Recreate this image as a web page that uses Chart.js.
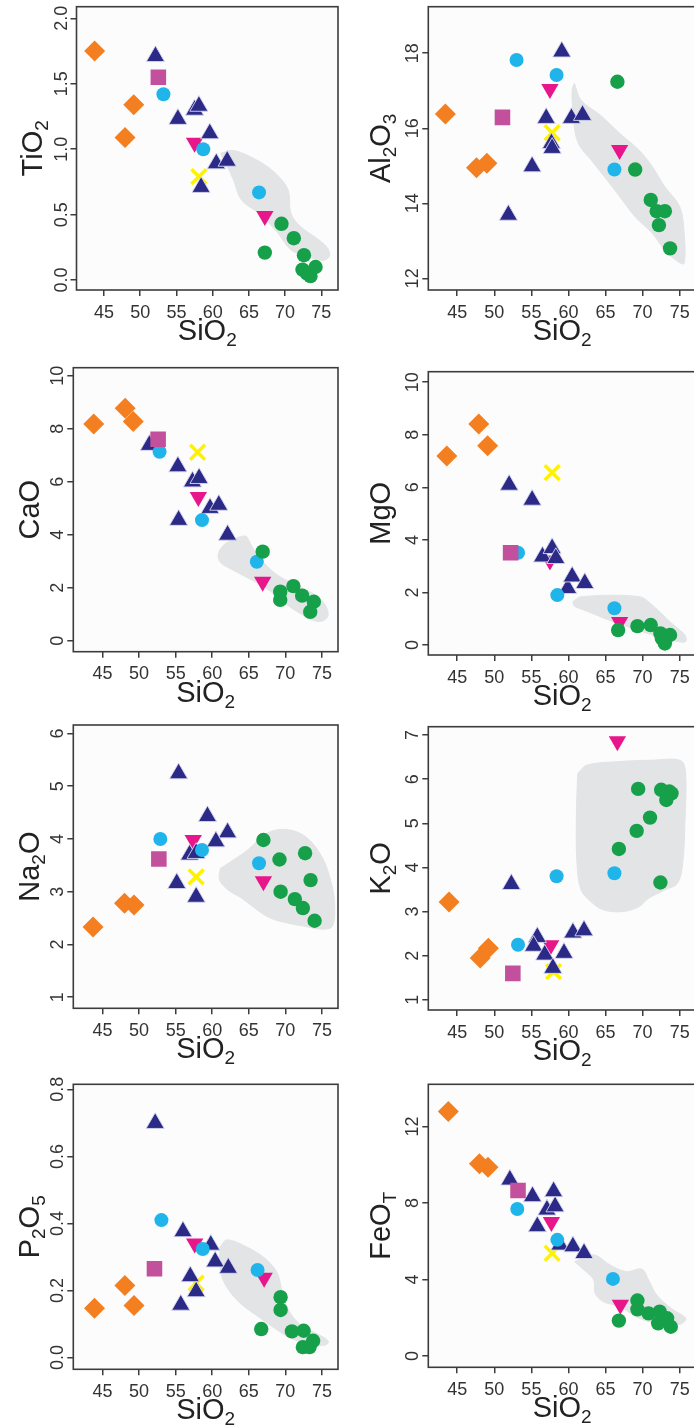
<!DOCTYPE html>
<html>
<head>
<meta charset="utf-8">
<title>Harker diagrams</title>
<script src="https://cdn.jsdelivr.net/npm/chart.js@4.4.1/dist/chart.umd.min.js"></script>
<style>
  html, body { margin: 0; padding: 0; background: #fff; width: 694px; height: 1426px; overflow: hidden; position: relative; }
  canvas { position: absolute; }
</style>
</head>
<body>
<script>
// Tick values
const SIO2_TICKS = [45, 50, 55, 60, 65, 70, 75];
const TIO2_TICKS = [0, 0.5, 1, 1.5, 2];
const AL2O3_TICKS = [12, 14, 16, 18];
const CAO_TICKS = [0, 2, 4, 6, 8, 10];
const MGO_TICKS = [0, 2, 4, 6, 8, 10];
const NA2O_TICKS = [1, 2, 3, 4, 5, 6];
const K2O_TICKS = [1, 2, 3, 4, 5, 6, 7];
const P2O5_TICKS = [0, 0.2, 0.4, 0.6, 0.8];
const FEOT_TICKS = [0, 4, 8, 12];

// [SiO2, oxide] pairs, one array per symbol group
const TIO2_DIAMOND = [[43.7, 1.75], [47.9, 1.09], [49.1, 1.34]];
const TIO2_SQUARE = [[52.5, 1.55]];
const TIO2_CYAN = [[53.2, 1.42], [58.7, 1.0], [66.4, 0.67]];
const TIO2_TRI = [[52.1, 1.71], [55.2, 1.23], [57.5, 1.30], [58.1, 1.33], [58.4, 0.71], [59.6, 1.12], [60.5, 0.89], [62.0, 0.91]];
const TIO2_INV = [[57.5, 1.05], [67.2, 0.49]];
const TIO2_CROSS = [[58.1, 0.79]];
const TIO2_GREEN = [[69.5, 0.43], [71.2, 0.32], [72.6, 0.19], [67.2, 0.21], [72.4, 0.08], [73.0, 0.05], [73.5, 0.03], [74.2, 0.10]];
const TIO2_FIELD = [[61.1, 0.97], [62.9, 0.99], [66.0, 0.92], [68.6, 0.82], [70.4, 0.69], [70.8, 0.51], [72.1, 0.41], [74.6, 0.31], [75.9, 0.24], [76.1, 0.18], [75.2, 0.15], [73.0, 0.18], [70.8, 0.23], [69.0, 0.36], [66.4, 0.51], [64.0, 0.61], [62.9, 0.76], [62.0, 0.87], [61.3, 0.94]];

const AL2O3_DIAMOND = [[43.4, 16.38], [47.6, 14.95], [49.0, 15.07]];
const AL2O3_SQUARE = [[51.1, 16.29]];
const AL2O3_CYAN = [[53.0, 17.82], [58.4, 17.42], [66.2, 14.9]];
const AL2O3_TRI = [[51.9, 13.69], [55.1, 14.98], [57.0, 16.27], [57.7, 15.6], [57.8, 15.47], [59.1, 18.04], [60.4, 16.27], [61.9, 16.35]];
const AL2O3_INV = [[57.5, 17.05], [66.9, 15.42]];
const AL2O3_CROSS = [[57.8, 15.88]];
const AL2O3_GREEN = [[66.6, 17.24], [69.0, 14.9], [71.1, 14.09], [71.9, 13.79], [73.0, 13.79], [72.2, 13.42], [73.7, 12.8]];
const AL2O3_FIELD = [[60.8, 17.2], [61.7, 16.75], [64.3, 16.35], [66.9, 15.87], [69.5, 15.42], [71.3, 14.98], [73.0, 14.44], [75.0, 13.91], [75.6, 13.2], [75.6, 12.4], [74.8, 12.44], [73.0, 12.75], [71.3, 13.2], [69.0, 13.64], [66.9, 14.18], [65.2, 14.62], [63.4, 15.07], [61.25, 15.64], [60.6, 16.49], [60.5, 17.02]];

const CAO_DIAMOND = [[43.8, 8.18], [48.1, 8.77], [49.2, 8.27]];
const CAO_SQUARE = [[52.6, 7.6]];
const CAO_CYAN = [[52.8, 7.13], [58.6, 4.55], [66.1, 2.98]];
const CAO_TRI = [[51.4, 7.38], [55.3, 6.57], [57.3, 6.0], [58.2, 6.13], [55.4, 4.55], [59.7, 5.0], [60.9, 5.12], [62.1, 3.99]];
const CAO_INV = [[58.1, 5.42], [66.9, 2.22]];
const CAO_CROSS = [[58.0, 7.11]];
const CAO_GREEN = [[66.9, 3.36], [69.3, 1.85], [69.3, 1.54], [71.1, 2.06], [72.3, 1.7], [73.9, 1.47], [73.4, 1.09]];
const CAO_FIELD = [[61.0, 3.42], [61.9, 3.68], [64.5, 3.95], [65.2, 3.68], [66.3, 3.17], [68.9, 2.48], [71.5, 2.1], [74.1, 1.72], [75.45, 1.35], [75.8, 0.91], [74.6, 0.72], [72.8, 0.91], [70.6, 1.28], [68.9, 1.66], [67.1, 2.04], [65.0, 2.35], [62.8, 2.67], [61.25, 2.92], [60.8, 3.17]];

const MGO_DIAMOND = [[43.6, 7.19], [47.9, 8.41], [49.1, 7.58]];
const MGO_SQUARE = [[52.2, 3.51]];
const MGO_CYAN = [[53.2, 3.51], [58.5, 1.9], [66.2, 1.4]];
const MGO_TRI = [[52.0, 6.09], [55.1, 5.52], [56.5, 3.36], [57.8, 3.68], [58.3, 3.3], [59.9, 2.16], [60.5, 2.6], [62.2, 2.35]];
const MGO_INV = [[57.5, 3.22], [66.9, 0.88]];
const MGO_CROSS = [[57.8, 6.56]];
const MGO_GREEN = [[66.7, 0.57], [69.3, 0.72], [71.1, 0.76], [72.4, 0.44], [73.0, 0.06], [72.6, 0.25], [73.7, 0.38]];
const MGO_FIELD = [[60.6, 1.65], [61.7, 1.84], [69.55, 1.84], [71.3, 1.52], [73.9, 0.83], [75.7, 0.38], [75.8, 0.13], [74.8, 0.13], [73.0, 0.25], [70.9, 0.42], [68.7, 0.63], [66.5, 0.83], [64.3, 1.08], [62.1, 1.33], [60.8, 1.48]];

const NA2O_DIAMOND = [[43.7, 2.33], [48.0, 2.78], [49.3, 2.75]];
const NA2O_SQUARE = [[52.7, 3.62]];
const NA2O_CYAN = [[52.9, 4.0], [58.6, 3.79], [66.4, 3.54]];
const NA2O_TRI = [[55.4, 5.24], [59.35, 4.43], [62.1, 4.12], [60.5, 3.95], [56.9, 3.7], [57.8, 3.73], [55.15, 3.16], [57.8, 2.9]];
const NA2O_INV = [[57.4, 3.98], [67.0, 3.2]];
const NA2O_CROSS = [[57.8, 3.28]];
const NA2O_GREEN = [[67.0, 3.98], [69.2, 3.61], [72.7, 3.73], [73.45, 3.22], [69.35, 3.0], [71.3, 2.86], [72.4, 2.69], [74.0, 2.45]];
const NA2O_FIELD = [[61.1, 3.44], [62.2, 3.54], [64.85, 3.79], [67.5, 4.11], [70.15, 4.18], [72.8, 4.04], [75.0, 3.66], [76.3, 3.16], [76.75, 2.72], [76.4, 2.34], [75.0, 2.29], [72.8, 2.34], [70.15, 2.41], [67.95, 2.5], [66.2, 2.65], [64.0, 2.88], [62.2, 3.03], [61.0, 3.22]];

const K2O_DIAMOND = [[43.9, 3.22], [48.1, 1.95], [49.2, 2.17]];
const K2O_SQUARE = [[52.5, 1.6]];
const K2O_CYAN = [[53.2, 2.25], [58.4, 3.8], [66.2, 3.87]];
const K2O_TRI = [[52.3, 3.62], [55.8, 2.42], [55.3, 2.22], [56.8, 2.02], [59.4, 2.06], [57.9, 1.72], [60.6, 2.52], [62.1, 2.57]];
const K2O_INV = [[57.6, 2.24], [66.6, 6.86]];
const K2O_CROSS = [[58.0, 1.64]];
const K2O_GREEN = [[69.4, 5.78], [72.5, 5.76], [73.6, 5.72], [73.9, 5.68], [73.2, 5.53], [71.0, 5.13], [69.2, 4.83], [66.8, 4.42], [72.4, 3.66]];
const K2O_FIELD = [[61.24, 6.13], [62.5, 6.32], [66.9, 6.4], [71.2, 6.43], [75.15, 6.42], [75.8, 6.13], [75.7, 5.0], [75.4, 4.09], [74.7, 3.64], [73.0, 3.49], [70.8, 3.3], [69.5, 3.11], [67.3, 3.0], [64.7, 3.04], [63.0, 3.23], [61.7, 3.49], [61.15, 4.09], [61.07, 5.15]];

const P2O5_DIAMOND = [[43.9, 0.147], [48.05, 0.215], [49.3, 0.155]];
const P2O5_SQUARE = [[52.1, 0.265]];
const P2O5_CYAN = [[53.05, 0.41], [58.7, 0.324], [66.2, 0.261]];
const P2O5_TRI = [[52.2, 0.699], [56.0, 0.376], [59.8, 0.336], [60.4, 0.286], [62.2, 0.267], [57.0, 0.242], [57.8, 0.197], [55.7, 0.157]];
const P2O5_INV = [[57.6, 0.34], [67.1, 0.238]];
const P2O5_CROSS = [[57.8, 0.222]];
const P2O5_GREEN = [[69.35, 0.18], [69.35, 0.142], [66.7, 0.085], [70.9, 0.078], [72.5, 0.08], [72.4, 0.031], [73.3, 0.031], [73.8, 0.05]];
const P2O5_FIELD = [[61.1, 0.331], [62.0, 0.351], [64.6, 0.331], [67.2, 0.296], [68.9, 0.252], [69.6, 0.192], [70.7, 0.132], [72.4, 0.092], [74.6, 0.068], [75.9, 0.048], [75.4, 0.037], [73.3, 0.041], [70.7, 0.058], [68.5, 0.088], [66.3, 0.122], [64.1, 0.157], [62.4, 0.197], [61.3, 0.242], [61.0, 0.296]];

const FEOT_DIAMOND = [[43.8, 12.78], [48.0, 10.05], [49.15, 9.87]];
const FEOT_SQUARE = [[53.2, 8.65]];
const FEOT_CYAN = [[53.1, 7.68], [58.5, 6.07], [66.0, 4.03]];
const FEOT_TRI = [[52.1, 9.21], [55.15, 8.34], [58.0, 8.6], [57.1, 7.64], [58.2, 7.81], [55.8, 6.77], [58.85, 5.81], [60.6, 5.72], [62.1, 5.37]];
const FEOT_INV = [[57.7, 7.0], [67.0, 2.68]];
const FEOT_CROSS = [[57.8, 5.37]];
const FEOT_GREEN = [[69.3, 2.9], [69.3, 2.44], [66.8, 1.85], [70.8, 2.23], [72.3, 2.32], [72.1, 1.71], [73.3, 1.97], [73.8, 1.53]];
const FEOT_FIELD = [[60.8, 4.93], [63.4, 5.29], [65.6, 4.76], [67.8, 4.41], [69.9, 4.54], [70.8, 3.98], [71.9, 3.19], [73.85, 2.49], [75.8, 1.97], [75.15, 1.67], [73.0, 1.67], [70.8, 1.8], [69.1, 2.06], [66.9, 2.58], [64.7, 2.84], [63.6, 3.28], [63.4, 3.98], [62.1, 4.5]];

const FONT = '"Liberation Sans", Arial, Helvetica, sans-serif';

// Symbol groups, in the same order as the series lists below
const GROUPS = [
    { style: 'rectRot', r: 10.5, fill: '#f47f20', order: 7 },
    { style: 'rect', r: 11, fill: '#c2509c', order: 2 },
    { style: 'circle', r: 7, fill: '#1fb4ea', order: 3 },
    { style: 'triangle', r: 10.5, fill: '#2b2a86', order: 4, edge: 'rgba(215,215,240,0.9)' },
    { style: 'triangle', r: 10, fill: '#e8168b', order: 6, rot: 180 },
    { style: 'crossRot', r: 10.5, fill: '#fff200', order: 5, line: 3.5 },
    { style: 'circle', r: 7.2, fill: '#17a04a', order: 1 }
];

// Panel layout: box = [left, top, right, bottom] of the plot frame on the page
const panels = [
    { title: [['TiO', 0], ['2', 1]], col: 0, box: [76.5, 6.7, 349.5, 290], xMin: 41.2, xMax: 77.3, yMin: -0.076, yMax: 2.089, ticks: TIO2_TICKS, dec: 1,
      series: [TIO2_DIAMOND, TIO2_SQUARE, TIO2_CYAN, TIO2_TRI, TIO2_INV, TIO2_CROSS, TIO2_GREEN], field: TIO2_FIELD },
    { title: [['Al', 0], ['2', 1], ['O', 0], ['3', 1]], col: 1, box: [428.3, 6.7, 704, 290], xMin: 41.1, xMax: 77.2, yMin: 11.69, yMax: 19.24, ticks: AL2O3_TICKS, dec: 0,
      series: [AL2O3_DIAMOND, AL2O3_SQUARE, AL2O3_CYAN, AL2O3_TRI, AL2O3_INV, AL2O3_CROSS, AL2O3_GREEN], field: AL2O3_FIELD },
    { title: [['CaO', 0]], col: 0, box: [73.3, 367.7, 349.5, 651.7], xMin: 41.0, xMax: 77.2, yMin: -0.415, yMax: 10.3, ticks: CAO_TICKS, dec: 0,
      series: [CAO_DIAMOND, CAO_SQUARE, CAO_CYAN, CAO_TRI, CAO_INV, CAO_CROSS, CAO_GREEN], field: CAO_FIELD },
    { title: [['MgO', 0]], col: 1, box: [428.3, 371.7, 704, 655], xMin: 41.1, xMax: 77.2, yMin: -0.38, yMax: 10.4, ticks: MGO_TICKS, dec: 0,
      series: [MGO_DIAMOND, MGO_SQUARE, MGO_CYAN, MGO_TRI, MGO_INV, MGO_CROSS, MGO_GREEN], field: MGO_FIELD },
    { title: [['Na', 0], ['2', 1], ['O', 0]], col: 0, box: [73.3, 725, 349.5, 1008.3], xMin: 41.0, xMax: 77.2, yMin: 0.79, yMax: 6.16, ticks: NA2O_TICKS, dec: 0,
      series: [NA2O_DIAMOND, NA2O_SQUARE, NA2O_CYAN, NA2O_TRI, NA2O_INV, NA2O_CROSS, NA2O_GREEN], field: NA2O_FIELD },
    { title: [['K', 0], ['2', 1], ['O', 0]], col: 1, box: [428.3, 726.7, 704, 1010], xMin: 41.1, xMax: 77.2, yMin: 0.77, yMax: 7.19, ticks: K2O_TICKS, dec: 0,
      series: [K2O_DIAMOND, K2O_SQUARE, K2O_CYAN, K2O_TRI, K2O_INV, K2O_CROSS, K2O_GREEN], field: K2O_FIELD },
    { title: [['P', 0], ['2', 1], ['O', 0], ['5', 1]], col: 0, box: [73.3, 1084.3, 349.5, 1369.3], xMin: 41.0, xMax: 77.2, yMin: -0.035, yMax: 0.815, ticks: P2O5_TICKS, dec: 1,
      series: [P2O5_DIAMOND, P2O5_SQUARE, P2O5_CYAN, P2O5_TRI, P2O5_INV, P2O5_CROSS, P2O5_GREEN], field: P2O5_FIELD },
    { title: [['FeO', 0], ['T', 1]], col: 1, box: [428.3, 1084.3, 704, 1367.3], xMin: 41.1, xMax: 77.2, yMin: -0.59, yMax: 14.2, ticks: FEOT_TICKS, dec: 0,
      series: [FEOT_DIAMOND, FEOT_SQUARE, FEOT_CYAN, FEOT_TRI, FEOT_INV, FEOT_CROSS, FEOT_GREEN], field: FEOT_FIELD }
];

function toPoints(arr) {
    return arr.map(p => ({ x: p[0], y: p[1] }));
}

// Draws text made of normal and subscript parts, centred on the origin
function drawParts(ctx, parts, size) {
    const subSize = Math.round(size * 0.64);
    let total = 0;
    parts.forEach(([t, sub]) => {
        ctx.font = (sub ? subSize : size) + 'px ' + FONT;
        total += ctx.measureText(t).width;
    });
    let x = -total / 2;
    parts.forEach(([t, sub]) => {
        ctx.font = (sub ? subSize : size) + 'px ' + FONT;
        ctx.fillText(t, x, sub ? size * 0.2 : 0);
        x += ctx.measureText(t).width;
    });
}

// Frame, background, rotated y labels and axis titles
const framePlugin = {
    id: 'frame',
    beforeDraw(chart) {
        const a = chart.chartArea;
        const ctx = chart.ctx;
        ctx.save();
        ctx.fillStyle = '#fcfcfc';
        ctx.fillRect(a.left, a.top, a.right - a.left, a.bottom - a.top);
        ctx.restore();
    },
    afterDatasetsDraw(chart) {
        const a = chart.chartArea;
        const ctx = chart.ctx;
        ctx.save();
        ctx.strokeStyle = '#3c3c3c';
        ctx.lineWidth = 1.6;
        ctx.strokeRect(a.left, a.top, a.right - a.left, a.bottom - a.top);
        ctx.restore();
    },
    afterDraw(chart, args, opts) {
        const a = chart.chartArea;
        const ctx = chart.ctx;
        const yScale = chart.scales.y;
        ctx.save();
        ctx.fillStyle = '#333';
        ctx.textAlign = 'left';
        ctx.textBaseline = 'alphabetic';

        // y tick labels, rotated like R's default
        ctx.font = '18px ' + FONT;
        yScale.ticks.forEach(t => {
            const py = yScale.getPixelForValue(t.value);
            ctx.save();
            ctx.translate(a.left - 10, py);
            ctx.rotate(-Math.PI / 2);
            ctx.textAlign = 'center';
            ctx.fillText(t.value.toFixed(opts.dec), 0, 0);
            ctx.restore();
        });

        ctx.fillStyle = '#222';
        // y title
        ctx.save();
        ctx.translate(a.left - opts.titleOffset, (a.top + a.bottom) / 2);
        ctx.rotate(-Math.PI / 2);
        drawParts(ctx, opts.title, 29);
        ctx.restore();

        // x title
        ctx.save();
        ctx.translate((a.left + a.right) / 2, a.bottom + 50);
        drawParts(ctx, [['SiO', 0], ['2', 1]], 29);
        ctx.restore();
        ctx.restore();
    }
};

panels.forEach(p => {
    const [L, T, R, B] = p.box;
    const canvasLeft = p.col ? 350 : 0;
    const canvasWidth = p.col ? 360 : 352;
    const canvasTop = Math.floor(T - 14);
    const padTop = T - canvasTop;
    const canvasHeight = Math.ceil(B - canvasTop + 58);
    const xAxisHeight = canvasHeight - (B - canvasTop);

    const canvas = document.createElement('canvas');
    canvas.width = canvasWidth;
    canvas.height = canvasHeight;
    canvas.style.left = canvasLeft + 'px';
    canvas.style.top = canvasTop + 'px';
    document.body.appendChild(canvas);

    const datasets = GROUPS.map((g, i) => ({
        type: 'scatter',
        data: toPoints(p.series[i]),
        pointStyle: g.style,
        pointRadius: g.r,
        pointHoverRadius: g.r,
        pointRotation: g.rot || 0,
        backgroundColor: g.fill,
        pointBackgroundColor: g.fill,
        pointBorderColor: g.style === 'crossRot' ? g.fill : (g.edge || g.fill),
        pointBorderWidth: g.line || (g.edge ? 1 : 0),
        order: g.order
    }));

    const closed = p.field.concat([p.field[0]]);
    datasets.push({
        type: 'line',
        data: toPoints(closed),
        showLine: true,
        fill: 'shape',
        backgroundColor: '#e3e4e6',
        borderColor: '#e3e4e6',
        borderWidth: 1,
        pointRadius: 0,
        tension: 0.35,
        order: 10
    });

    const gridStyle = {
        display: true,
        drawOnChartArea: false,
        drawTicks: true,
        tickLength: 6,
        color: '#3c3c3c',
        lineWidth: 1.5
    };

    new Chart(canvas, {
        type: 'scatter',
        data: { datasets: datasets },
        options: {
            responsive: false,
            animation: false,
            devicePixelRatio: 1,
            layout: { padding: { top: padTop, right: canvasWidth - (R - canvasLeft), left: 0, bottom: 0 } },
            plugins: {
                legend: { display: false },
                tooltip: { enabled: false },
                frame: { title: p.title, dec: p.dec, titleOffset: p.col ? 38.5 : 34.5 }
            },
            scales: {
                x: {
                    type: 'linear',
                    min: p.xMin,
                    max: p.xMax,
                    grid: gridStyle,
                    border: { display: false },
                    ticks: {
                        font: { family: FONT, size: 18 },
                        color: '#333',
                        padding: 6,
                        maxRotation: 0,
                        autoSkip: false,
                        callback: v => String(v)
                    },
                    afterBuildTicks: s => { s.ticks = SIO2_TICKS.map(v => ({ value: v })); },
                    afterFit: s => { s.height = xAxisHeight; }
                },
                y: {
                    type: 'linear',
                    min: p.yMin,
                    max: p.yMax,
                    grid: gridStyle,
                    border: { display: false },
                    ticks: { display: false },
                    afterBuildTicks: s => { s.ticks = p.ticks.map(v => ({ value: v })); },
                    afterFit: s => { s.width = L - canvasLeft; }
                }
            }
        },
        plugins: [framePlugin]
    });
});
</script>
</body>
</html>
